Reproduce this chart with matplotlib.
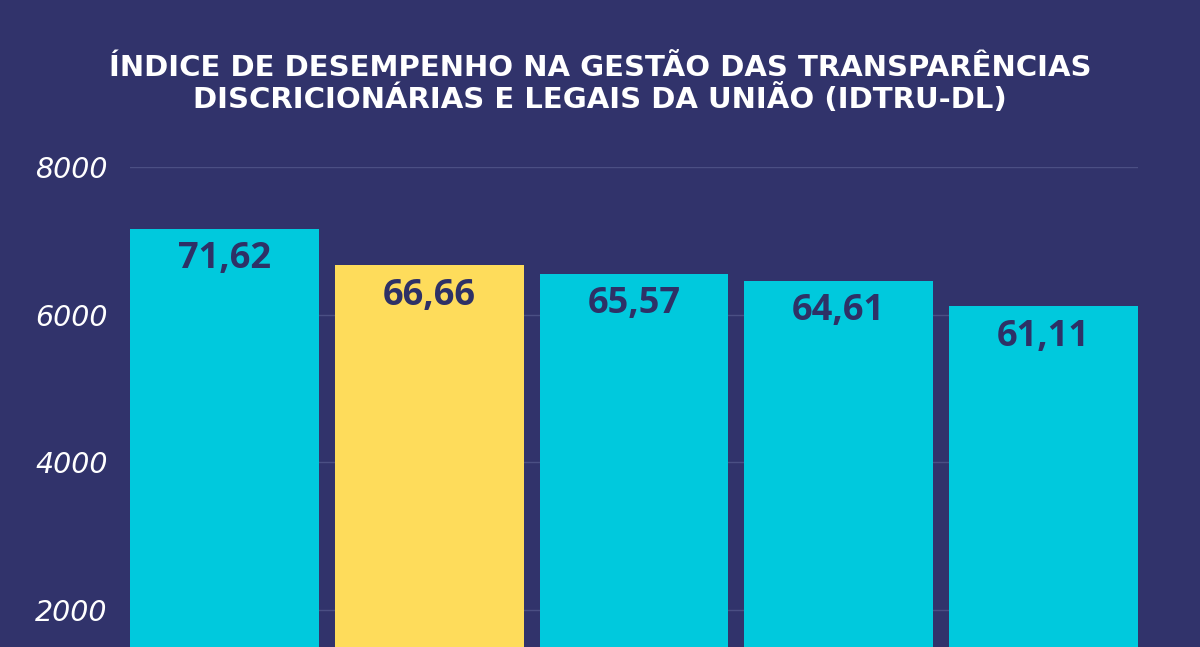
import matplotlib
matplotlib.use("Agg")
import matplotlib.pyplot as plt
from matplotlib import font_manager as fm

categories = ["A", "B", "C", "D", "E"]
values = [7162, 6666, 6557, 6461, 6111]
labels = ["71,62", "66,66", "65,57", "64,61", "61,11"]
colors = ["#00C9DD", "#FEDC5B", "#00C9DD", "#00C9DD", "#00C9DD"]
yticks = [2000, 4000, 6000, 8000]
title = "ÍNDICE DE DESEMPENHO NA GESTÃO DAS TRANSPARÊNCIAS\nDISCRICIONÁRIAS E LEGAIS DA UNIÃO (IDTRU-DL)"

label_fp = fm.FontProperties(family="Open Sans", weight="bold", size=26)

bg = "#31336B"
fig = plt.figure(figsize=(12, 6.47), dpi=100, facecolor=bg)
ax = fig.add_axes([130/1200, 0, (1138-130)/1200, 1 - 167/647])
ax.set_facecolor(bg)

x = list(range(len(categories)))
ax.bar(x, values, width=0.922, color=colors, zorder=3)
ax.set_xlim(-0.461, len(categories) - 1 + 0.461)
ax.set_ylim(8000 - (647-167)/73.83*1000, 8000)

for xi, v, lab in zip(x, values, labels):
    ax.annotate(lab, (xi, v), xytext=(0, -22), textcoords="offset points",
                ha="center", va="center", fontproperties=label_fp,
                color="#2E3166", zorder=4)

ax.set_yticks(yticks)
ax.set_yticklabels([str(t) for t in yticks], fontsize=20.5, color="white",
                   style="italic", family="DejaVu Sans")
ax.tick_params(axis="y", length=0, pad=16)
ax.set_xticks([])
ax.grid(axis="y", color="#4B4F84", linewidth=1, zorder=0)
for s in ax.spines.values():
    s.set_visible(False)

fig.text(0.5, 1 - 84/647, title, ha="center", va="center", fontsize=21,
         fontweight="bold", color="white", family="DejaVu Sans", linespacing=1.08)

fig.savefig("out.png", dpi=100, facecolor=bg)
